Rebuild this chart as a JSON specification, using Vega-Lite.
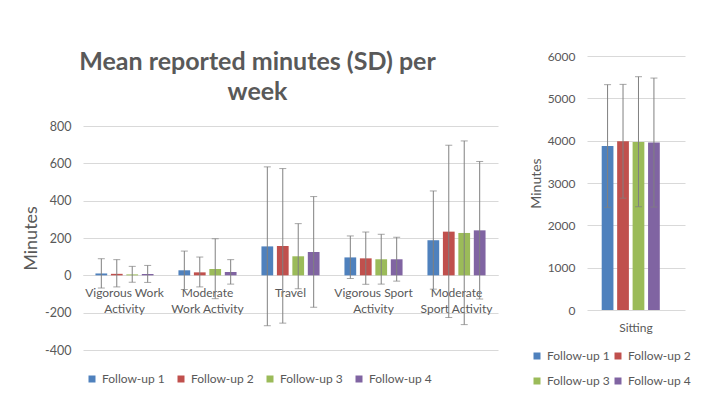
{
  "$schema": "https://vega.github.io/schema/vega-lite/v6.json",
  "background": "white",
  "padding": {"left": 22, "top": 50, "right": 0, "bottom": 0},
  "spacing": 31,
  "center": true,
  "config": {
    "font": "Lato",
    "view": {"stroke": null},
    "axis": {
      "labelColor": "#595959",
      "titleColor": "#595959",
      "labelFont": "Lato",
      "titleFont": "Lato",
      "titleFontWeight": "normal",
      "gridColor": "#d9d9d9",
      "domain": false,
      "ticks": false,
      "labelFontSize": 12.5
    },
    "legend": {
      "labelColor": "#595959",
      "labelFont": "Lato",
      "labelFontSize": 12,
      "symbolType": "square",
      "symbolSize": 49,
      "symbolStrokeWidth": 0,
      "labelOffset": 4
    }
  },
  "datasets": {
    "activity": [
      {"activity": "Vigorous Work Activity", "followup": "Follow-up 1", "mean": 10, "lo": -68, "hi": 89},
      {"activity": "Vigorous Work Activity", "followup": "Follow-up 2", "mean": 8, "lo": -62, "hi": 84},
      {"activity": "Vigorous Work Activity", "followup": "Follow-up 3", "mean": 5, "lo": -37, "hi": 48},
      {"activity": "Vigorous Work Activity", "followup": "Follow-up 4", "mean": 7, "lo": -38, "hi": 53},
      {"activity": "Moderate Work Activity", "followup": "Follow-up 1", "mean": 27, "lo": -76, "hi": 130},
      {"activity": "Moderate Work Activity", "followup": "Follow-up 2", "mean": 16, "lo": -62, "hi": 98},
      {"activity": "Moderate Work Activity", "followup": "Follow-up 3", "mean": 34, "lo": -125, "hi": 196},
      {"activity": "Moderate Work Activity", "followup": "Follow-up 4", "mean": 18, "lo": -47, "hi": 84},
      {"activity": "Travel", "followup": "Follow-up 1", "mean": 155, "lo": -270, "hi": 581},
      {"activity": "Travel", "followup": "Follow-up 2", "mean": 157, "lo": -256, "hi": 572},
      {"activity": "Travel", "followup": "Follow-up 3", "mean": 102, "lo": -72, "hi": 277},
      {"activity": "Travel", "followup": "Follow-up 4", "mean": 125, "lo": -171, "hi": 422},
      {"activity": "Vigorous Sport Activity", "followup": "Follow-up 1", "mean": 96, "lo": -17, "hi": 211},
      {"activity": "Vigorous Sport Activity", "followup": "Follow-up 2", "mean": 91, "lo": -48, "hi": 232},
      {"activity": "Vigorous Sport Activity", "followup": "Follow-up 3", "mean": 86, "lo": -47, "hi": 220},
      {"activity": "Vigorous Sport Activity", "followup": "Follow-up 4", "mean": 86, "lo": -31, "hi": 204},
      {"activity": "Moderate Sport Activity", "followup": "Follow-up 1", "mean": 188, "lo": -74, "hi": 452},
      {"activity": "Moderate Sport Activity", "followup": "Follow-up 2", "mean": 234, "lo": -226, "hi": 697},
      {"activity": "Moderate Sport Activity", "followup": "Follow-up 3", "mean": 227, "lo": -264, "hi": 720},
      {"activity": "Moderate Sport Activity", "followup": "Follow-up 4", "mean": 241, "lo": -127, "hi": 610}
    ],
    "sitting": [
      {"activity": "Sitting", "followup": "Follow-up 1", "mean": 3875, "lo": 2425, "hi": 5323},
      {"activity": "Sitting", "followup": "Follow-up 2", "mean": 3986, "lo": 2642, "hi": 5330},
      {"activity": "Sitting", "followup": "Follow-up 3", "mean": 3969, "lo": 2440, "hi": 5511},
      {"activity": "Sitting", "followup": "Follow-up 4", "mean": 3955, "lo": 2431, "hi": 5479}
    ]
  },
  "resolve": {"scale": {"color": "independent"}, "legend": {"color": "independent"}},
  "hconcat": [
    {
      "width": 415,
      "height": 224,
      "title": {
        "text": ["Mean reported minutes (SD) per", "week"],
        "fontSize": 25,
        "fontWeight": "bold",
        "color": "#595959",
        "font": "Lato",
        "lineHeight": 30,
        "anchor": "middle",
        "dx": -33,
        "offset": 15
      },
      "data": {"name": "activity"},
      "encoding": {
        "x": {
          "field": "activity",
          "type": "nominal",
          "sort": ["Vigorous Work Activity", "Moderate Work Activity", "Travel", "Vigorous Sport Activity", "Moderate Sport Activity"],
          "scale": {"paddingInner": 0.3, "paddingOuter": 0.15},
          "axis": {
            "title": null,
            "labelAngle": 0,
            "offset": -75,
            "labelPadding": 12,
            "labelFontSize": 12,
            "labelLineHeight": 16.5,
            "domain": true,
            "domainColor": "#d9d9d9",
            "labelExpr": "datum.value == 'Vigorous Work Activity' ? ['Vigorous Work', 'Activity'] : datum.value == 'Moderate Work Activity' ? ['Moderate', 'Work Activity'] : datum.value == 'Vigorous Sport Activity' ? ['Vigorous Sport', 'Activity'] : datum.value == 'Moderate Sport Activity' ? ['Moderate', 'Sport Activity'] : datum.value"
          }
        },
        "xOffset": {"field": "followup", "type": "nominal", "scale": {"paddingInner": 0.24}}
      },
      "layer": [
        {
          "mark": {"type": "bar"},
          "encoding": {
            "y": {
              "field": "mean",
              "type": "quantitative",
              "scale": {"domain": [-400, 800]},
              "axis": {"title": "Minutes", "titleFontSize": 18, "titlePadding": 4, "labelPadding": 12, "values": [-400, -200, 0, 200, 400, 600, 800], "labelExpr": "datum.value < 0 ? '-' + abs(datum.value) : '' + datum.value"}
            },
            "color": {
              "field": "followup",
              "type": "nominal",
              "scale": {"range": ["#4F81BD", "#C0504D", "#9BBB59", "#8064A2"]},
              "legend": {
                "title": null,
                "orient": "none",
                "legendX": 3,
                "legendY": 247,
                "direction": "horizontal",
                "columns": 4,
                "columnPadding": 10
              }
            }
          }
        },
        {
          "mark": {"type": "rule", "color": "#808080", "strokeWidth": 1},
          "encoding": {
            "y": {"field": "lo", "type": "quantitative", "axis": {"title": "Minutes", "titleFontSize": 18, "titlePadding": 4, "labelPadding": 12, "values": [-400, -200, 0, 200, 400, 600, 800], "labelExpr": "datum.value < 0 ? '-' + abs(datum.value) : '' + datum.value"}},
            "y2": {"field": "hi"}
          }
        },
        {
          "mark": {"type": "tick", "color": "#808080", "thickness": 1, "size": 7},
          "encoding": {"y": {"field": "lo", "type": "quantitative", "axis": {"title": "Minutes", "titleFontSize": 18, "titlePadding": 4, "labelPadding": 12, "values": [-400, -200, 0, 200, 400, 600, 800], "labelExpr": "datum.value < 0 ? '-' + abs(datum.value) : '' + datum.value"}}}
        },
        {
          "mark": {"type": "tick", "color": "#808080", "thickness": 1, "size": 7},
          "encoding": {"y": {"field": "hi", "type": "quantitative", "axis": {"title": "Minutes", "titleFontSize": 18, "titlePadding": 4, "labelPadding": 12, "values": [-400, -200, 0, 200, 400, 600, 800], "labelExpr": "datum.value < 0 ? '-' + abs(datum.value) : '' + datum.value"}}}
        }
      ]
    },
    {
      "width": 98,
      "height": 254,
      "data": {"name": "sitting"},
      "encoding": {
        "x": {
          "field": "activity",
          "type": "nominal",
          "scale": {"paddingInner": 0.3, "paddingOuter": 0.15},
          "axis": {"title": " ", "titlePadding": 111, "titleFontSize": 11, "labelAngle": 0, "labelPadding": 12, "labelFontSize": 12}
        },
        "xOffset": {"field": "followup", "type": "nominal", "scale": {"paddingInner": 0.22}}
      },
      "layer": [
        {
          "mark": {"type": "bar"},
          "encoding": {
            "y": {
              "field": "mean",
              "type": "quantitative",
              "scale": {"domain": [0, 6000]},
              "axis": {"title": "Minutes", "titleFontSize": 14, "titlePadding": 4, "labelPadding": 12, "labelFontSize": 12, "values": [0, 1000, 2000, 3000, 4000, 5000, 6000], "format": "d"}
            },
            "color": {
              "field": "followup",
              "type": "nominal",
              "scale": {"range": ["#4F81BD", "#C0504D", "#9BBB59", "#8064A2"]},
              "legend": {
                "title": null,
                "orient": "none",
                "legendX": -56,
                "legendY": 294,
                "direction": "horizontal",
                "columns": 2,
                "columnPadding": 2,
                "rowPadding": 13
              }
            }
          }
        },
        {
          "mark": {"type": "rule", "color": "#808080", "strokeWidth": 1},
          "encoding": {
            "y": {"field": "lo", "type": "quantitative", "axis": {"title": "Minutes", "titleFontSize": 14, "titlePadding": 4, "labelPadding": 12, "labelFontSize": 12, "values": [0, 1000, 2000, 3000, 4000, 5000, 6000], "format": "d"}},
            "y2": {"field": "hi"}
          }
        },
        {
          "mark": {"type": "tick", "color": "#808080", "thickness": 1, "size": 7},
          "encoding": {"y": {"field": "lo", "type": "quantitative", "axis": {"title": "Minutes", "titleFontSize": 14, "titlePadding": 4, "labelPadding": 12, "labelFontSize": 12, "values": [0, 1000, 2000, 3000, 4000, 5000, 6000], "format": "d"}}}
        },
        {
          "mark": {"type": "tick", "color": "#808080", "thickness": 1, "size": 7},
          "encoding": {"y": {"field": "hi", "type": "quantitative", "axis": {"title": "Minutes", "titleFontSize": 14, "titlePadding": 4, "labelPadding": 12, "labelFontSize": 12, "values": [0, 1000, 2000, 3000, 4000, 5000, 6000], "format": "d"}}}
        }
      ]
    }
  ]
}
